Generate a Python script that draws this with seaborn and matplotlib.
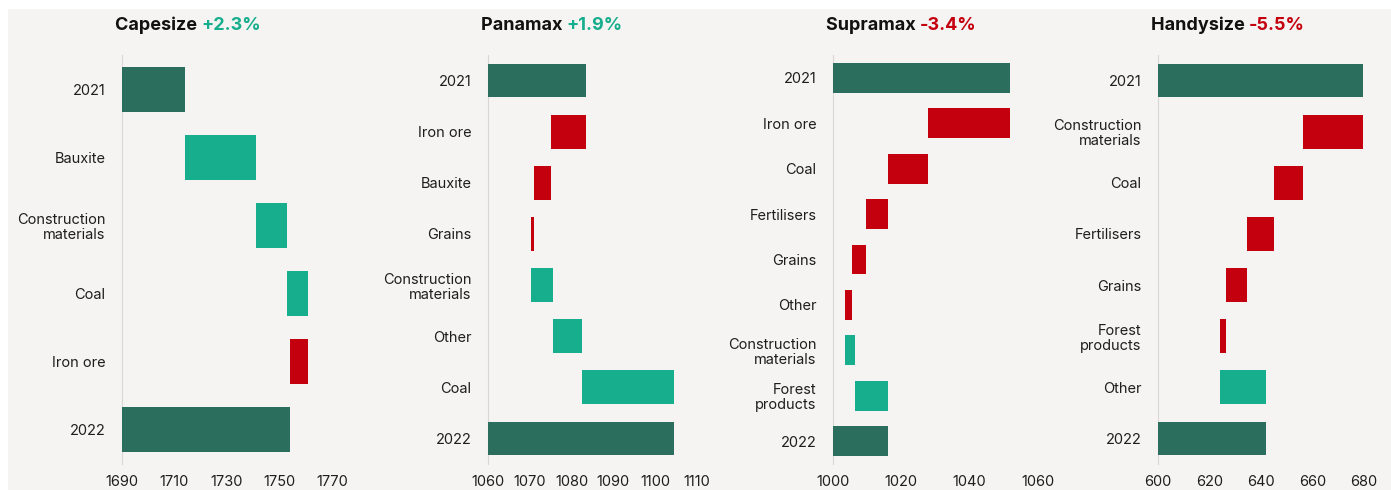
import numpy as np
import pandas as pd
import matplotlib
matplotlib.use("Agg")
import matplotlib.pyplot as plt
import seaborn as sns

# ---------------- data ----------------
cape_cats = ["2021", "Bauxite", "Construction\nmaterials", "Coal", "Iron ore", "2022"]
cape_vals = [1714, 27, 12, 8, -7, 1754]

pana_cats = ["2021", "Iron ore", "Bauxite", "Grains", "Construction\nmaterials", "Other", "Coal", "2022"]
pana_vals = [1083.5, -8.5, -4.0, -0.7, 5.2, 7.0, 22.0, 1104.5]

supra_cats = ["2021", "Iron ore", "Coal", "Fertilisers", "Grains", "Other",
              "Construction\nmaterials", "Forest\nproducts", "2022"]
supra_vals = [1051.8, -24.0, -11.8, -6.4, -4.0, -2.2, 2.9, 9.9, 1016.2]

handy_cats = ["2021", "Construction\nmaterials", "Coal", "Fertilisers", "Grains",
              "Forest\nproducts", "Other", "2022"]
handy_vals = [679.6, -23.3, -11.3, -10.5, -8.0, -2.6, 18.2, 642.1]

titles = ["Capesize", "Panamax", "Supramax", "Handysize"]
changes = ["+2.3%", "+1.9%", "-3.4%", "-5.5%"]

cape_ticks = [1690, 1710, 1730, 1750, 1770]
pana_ticks = [1060, 1070, 1080, 1090, 1100, 1110]
supra_ticks = [1000, 1020, 1040, 1060]
handy_ticks = [600, 620, 640, 660, 680]

panels = [
    (cape_cats, cape_vals, cape_ticks),
    (pana_cats, pana_vals, pana_ticks),
    (supra_cats, supra_vals, supra_ticks),
    (handy_cats, handy_vals, handy_ticks),
]

# ---------------- style ----------------
BG = "#f6f4f2"
DARK = "#2b6e5d"
TEAL = "#16ae8d"
RED = "#c5000e"
TXT = "#1e1e1e"

sns.set_theme(style="white")
plt.rcParams["font.family"] = ["Inter", "DejaVu Sans"]

fig = plt.figure(figsize=(13.91, 4.90), dpi=100)
fig.patch.set_facecolor("white")
W, H = 1391, 490
# off-white backdrop (thin top/left strip stays white like the reference crop)
fig.add_artist(plt.Rectangle((8 / W, 0), 1 - 8 / W, 1 - 9 / H,
                             transform=fig.transFigure, facecolor=BG,
                             edgecolor="none", zorder=-10))

lefts_px = [122, 488, 833, 1158]
widths_px = [210, 209, 205, 206]
top_px, bot_px = 55, 464

for i, (cats, vals, ticks) in enumerate(panels):
    n = len(cats)
    starts, widths, colors = [], [], []
    run = 0.0
    for j, v in enumerate(vals):
        if j == 0 or j == n - 1:
            starts.append(ticks[0])
            widths.append(v - ticks[0])
            colors.append(DARK)
            run = v
        else:
            starts.append(run)
            widths.append(v)
            colors.append(TEAL if v > 0 else RED)
            run += v

    ax = fig.add_axes([lefts_px[i] / W, 1 - bot_px / H,
                       widths_px[i] / W, (bot_px - top_px) / H])
    ax.set_facecolor("none")
    df = pd.DataFrame({"cat": cats, "width": widths})
    sns.barplot(data=df, x="width", y="cat", order=cats, orient="h", ax=ax,
                left=starts, width=0.66, errorbar=None, linewidth=0,
                color=DARK, saturation=1)
    for p, c in zip(ax.patches, colors):
        p.set_facecolor(c)

    ax.set_xlim(ticks[0], ticks[-1])
    ax.set_ylim(n - 0.5, -0.5)
    ax.set_xticks(ticks)
    ax.set_xticklabels([str(t) for t in ticks])
    ax.set_xlabel("")
    ax.set_ylabel("")
    for s in ["top", "right", "bottom"]:
        ax.spines[s].set_visible(False)
    ax.spines["left"].set_color("#d9d7d5")
    ax.spines["left"].set_linewidth(0.8)
    ax.spines["left"].set_zorder(0.5)
    ax.tick_params(axis="both", length=0, labelsize=10.5, colors=TXT)
    ax.tick_params(axis="y", pad=12)
    ax.tick_params(axis="x", pad=8)
    for lab in ax.get_yticklabels():
        lab.set_multialignment("right")
        lab.set_linespacing(1.1)

    # two-colour title
    t = fig.text((lefts_px[i] - 7) / W, 1 - 25 / H, titles[i] + " ",
                 fontsize=13, fontweight="bold", color="#111111",
                 ha="left", va="center")
    ccol = TEAL if changes[i].startswith("+") else RED
    ax.annotate(changes[i], xy=(1, 0), xycoords=t, xytext=(0, 0),
                textcoords="offset points", ha="left", va="bottom",
                fontsize=13, fontweight="bold", color=ccol,
                annotation_clip=False)

fig.savefig("out.png", dpi=100, facecolor=fig.get_facecolor())
